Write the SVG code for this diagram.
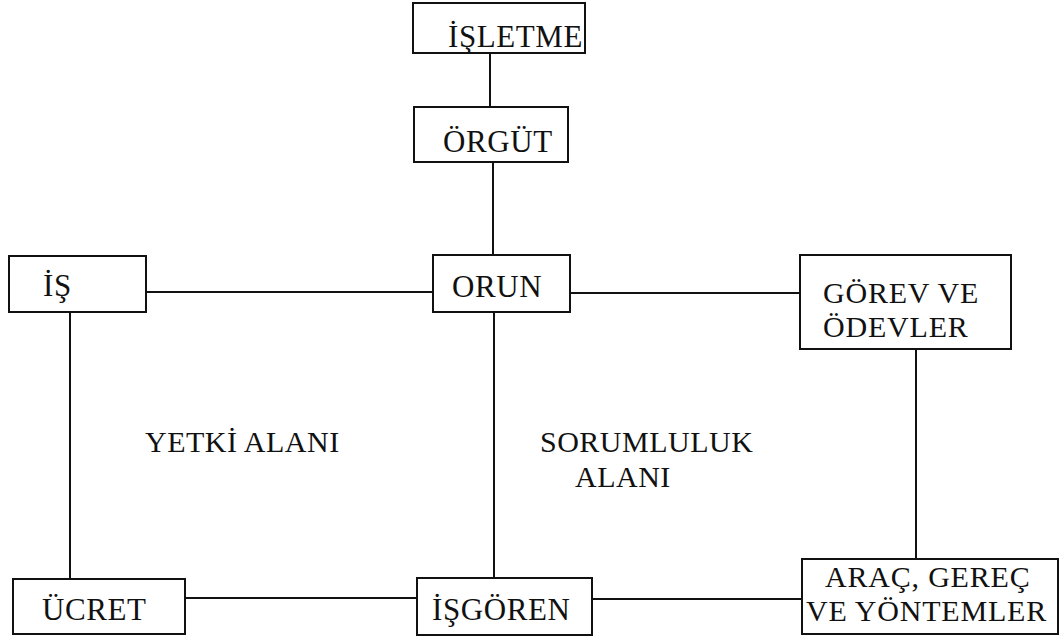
<svg xmlns="http://www.w3.org/2000/svg" width="1064" height="640" viewBox="0 0 1064 640">
<style>
.box{fill:#fff;stroke:#111;stroke-width:2}
.t{font-family:"Liberation Serif","Times New Roman",serif;font-size:31px;letter-spacing:0.6px;fill:#111}
.t2{font-family:"Liberation Serif","Times New Roman",serif;font-size:30px;letter-spacing:0.8px;fill:#111}
.l{font-family:"Liberation Serif","Times New Roman",serif;font-size:30px;letter-spacing:0.5px;fill:#111}
.c line{stroke:#111;stroke-width:2}
</style>
<rect width="1064" height="640" fill="#fff"/>
<g class="c" id="connectors">
<line x1="490" y1="53" x2="490" y2="107"/>
<line x1="493" y1="162" x2="493" y2="255"/>
<line x1="146" y1="292" x2="433" y2="292"/>
<line x1="570" y1="293" x2="800" y2="293"/>
<line x1="494" y1="312" x2="494" y2="578"/>
<line x1="70" y1="312" x2="70" y2="579"/>
<line x1="916" y1="349" x2="916" y2="559"/>
<line x1="185" y1="598" x2="417" y2="598"/>
<line x1="592" y1="599" x2="802" y2="599"/>
</g>
<g id="isletme"><rect class="box" x="413" y="3" width="172" height="50"/><text class="t" x="448" y="47">İŞLETME</text></g>
<g id="orgut"><rect class="box" x="414" y="107" width="154" height="55"/><text class="t" x="443" y="152">ÖRGÜT</text></g>
<g id="orun"><rect class="box" x="433" y="255" width="137" height="57"/><text class="t" x="452" y="297">ORUN</text></g>
<g id="is"><rect class="box" x="9" y="256" width="137" height="56"/><text class="t" x="43" y="296">İŞ</text></g>
<g id="gorev"><rect class="box" x="800" y="255" width="211" height="94"/><text class="t2" x="823" y="303">GÖREV VE</text><text class="t2" x="823" y="337">ÖDEVLER</text></g>
<g id="ucret"><rect class="box" x="13" y="579" width="172" height="55"/><text class="t" x="42" y="620">ÜCRET</text></g>
<g id="isgoren"><rect class="box" x="417" y="578" width="175" height="57"/><text class="t" x="432" y="620">İŞGÖREN</text></g>
<g id="arac"><rect class="box" x="802" y="559" width="256" height="75"/><text class="t2" x="825" y="587">ARAÇ, GEREÇ</text><text class="t2" x="806" y="621">VE YÖNTEMLER</text></g>
<g id="labels">
<text class="l" x="145" y="452">YETKİ ALANI</text>
<text class="l" x="540" y="452">SORUMLULUK</text>
<text class="l" x="575" y="487">ALANI</text>
</g>
</svg>
